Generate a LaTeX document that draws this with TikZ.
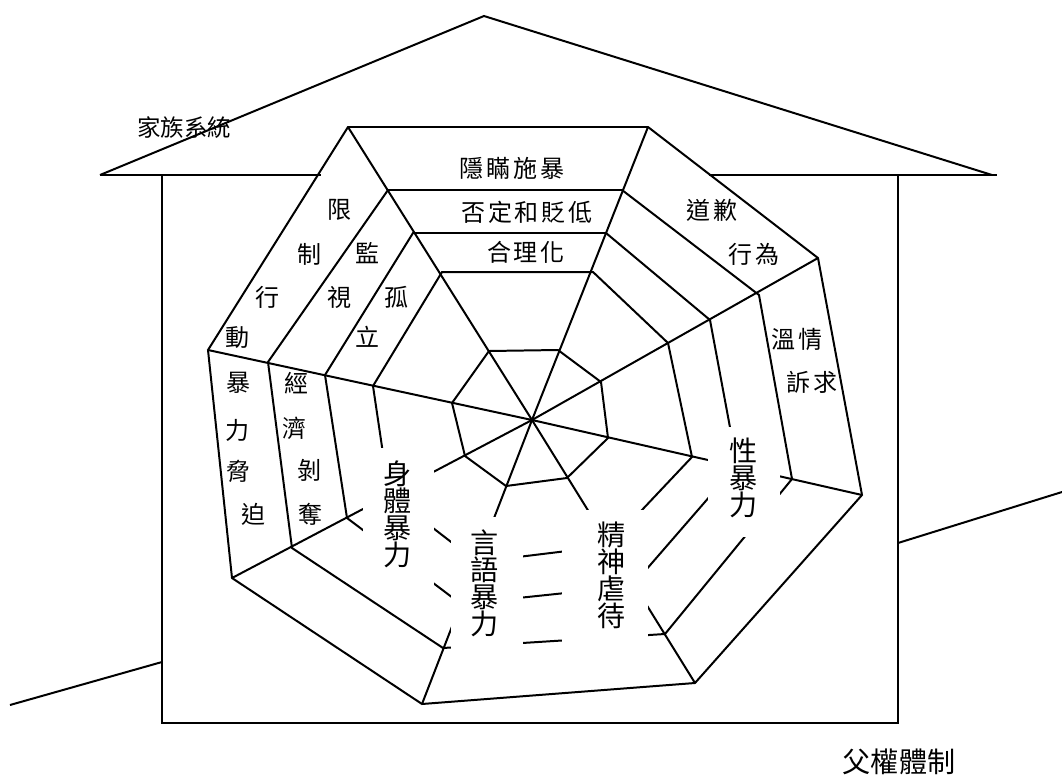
\documentclass[tikz,border=0pt]{standalone}
\usepackage{fontspec}
\newfontfamily\cjk{Noto Sans CJK TC}
\newcommand\gp{\hspace{2.5pt}}
\begin{document}
\begin{tikzpicture}[x=0.03cm,y=-0.03cm,
  lw/.style={line width=1.7pt, black},
  band/.style={font=\cjk\fontsize{20.5}{20.5}\selectfont, inner sep=0pt},
  biglbl/.style={font=\cjk\fontsize{24}{23}\selectfont, align=center, inner sep=0pt},
  title/.style={font=\cjk\fontsize{20}{20}\selectfont, inner sep=0pt}]
\useasboundingbox (0,0) rectangle (1062,781);
% house
\draw[lw] (100,175) -- (484,16) -- (992,175);
\draw[lw] (100,175) -- (321,175);
\draw[lw] (709,175) -- (997,175);
\draw[lw] (162,175) -- (162,723) -- (898,723) -- (898,175);
\draw[lw] (10,705) -- (162,662);
\draw[lw] (898,543) -- (1062,492);
% web coordinates
\coordinate (O) at (532,420);
\coordinate (TL1) at (348,127); \coordinate (TR1) at (648,127); \coordinate (RU1) at (818,258); \coordinate (RR1) at (862,495);
\coordinate (BR1) at (695,683); \coordinate (BL1) at (422,704); \coordinate (LL1) at (232,578); \coordinate (LU1) at (208,350);
\coordinate (TL2) at (388,190); \coordinate (TR2) at (622,190); \coordinate (RU2) at (759,295); \coordinate (RR2) at (792,479);
\coordinate (BR2) at (665,634); \coordinate (BL2) at (443,648); \coordinate (LL2) at (292,548); \coordinate (LU2) at (268,362);
\coordinate (TL3) at (413,233); \coordinate (TR3) at (606,233); \coordinate (RU3) at (710,320); \coordinate (RR3) at (737,465);
\coordinate (BR3) at (632,586); \coordinate (BL3) at (461,604); \coordinate (LL3) at (347,518); \coordinate (LU3) at (325,375);
\coordinate (TL4) at (442,272); \coordinate (TR4) at (593,272); \coordinate (RU4) at (668,343); \coordinate (RR4) at (692,457);
\coordinate (BR4) at (608,546); \coordinate (BL4) at (477,562); \coordinate (LL4) at (389,494); \coordinate (LU4) at (373,386);
\coordinate (TL5) at (489,351); \coordinate (TR5) at (558,350); \coordinate (RU5) at (601,382); \coordinate (RR5) at (608,438);
\coordinate (BR5) at (567,478); \coordinate (BL5) at (506,486); \coordinate (LL5) at (465,456); \coordinate (LU5) at (452,403);
\foreach \r in {1,...,5}
  \draw[lw] (TL\r) -- (TR\r) -- (RU\r) -- (RR\r) -- (BR\r) -- (BL\r) -- (LL\r) -- (LU\r) -- cycle;
\foreach \v in {TL,TR,RU,RR,BR,BL,LL,LU}
  \draw[lw] (O) -- (\v1);
% label backgrounds
\fill[white] (363,448) rectangle (434,590);
\fill[white] (451,517) rectangle (523,660);
\fill[white] (562,510) rectangle (648,660);
\fill[white] (708,427) rectangle (780,537);
% band labels
\node[band] (t1) at (512,168) {隱\gp 瞞\gp 施\gp 暴};
\node[band] (t2) at (527,212) {否\gp 定\gp 和\gp 貶\gp 低};
\node[band] (t3) at (526,252) {合\gp 理\gp 化};
\node[band] (a1) at (340,210) {限};
\node[band] (a2) at (310,254) {制};
\node[band] (a3) at (268,297) {行};
\node[band] (a4) at (238,338) {動};
\node[band] (b1) at (368,253) {監};
\node[band] (b2) at (340,297) {視};
\node[band] (c1) at (397,297) {孤};
\node[band] (c2) at (368,337) {立};
\node[band] (d1) at (239,383) {暴};
\node[band] (d2) at (238,430) {力};
\node[band] (d3) at (239,471) {脅};
\node[band] (d4) at (254,514) {迫};
\node[band] (e1) at (297,383) {經};
\node[band] (e2) at (295,428) {濟};
\node[band] (e3) at (310,470) {剝};
\node[band] (e4) at (311,514) {奪};
\node[band] (f1) at (712,210) {道\gp 歉};
\node[band] (f2) at (754,254) {行\gp 為};
\node[band] (g1) at (797,339) {溫\gp 情};
\node[band] (g2) at (812,382) {訴\gp 求};
% big labels
\node[biglbl] (L1) at (398,514) {身\\體\\暴\\力};
\node[biglbl] (L2) at (485,583) {言\\語\\暴\\力};
\node[biglbl] (L3) at (612,575) {精\\神\\虐\\待};
\node[biglbl] (L4) at (744,478) {性\\暴\\力};
% titles
\node[title] (T1) at (184,128) {家族系統};
\node[biglbl] (T2) at (899,762) {父權體制};
\end{tikzpicture}
\end{document}
